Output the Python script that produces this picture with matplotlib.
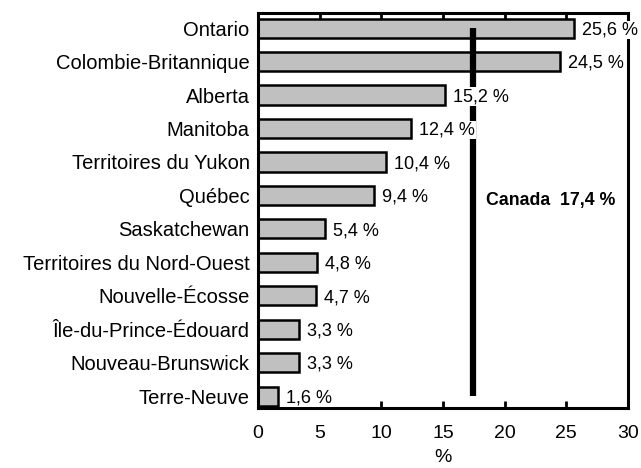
import matplotlib
matplotlib.use("Agg")
import matplotlib.pyplot as plt

plt.rcParams['font.family'] = ['Liberation Sans', 'DejaVu Sans']

# data
provinces = ["Ontario", "Colombie-Britannique", "Alberta", "Manitoba",
             "Territoires du Yukon", "Québec", "Saskatchewan",
             "Territoires du Nord-Ouest", "Nouvelle-Écosse",
             "Île-du-Prince-Édouard", "Nouveau-Brunswick", "Terre-Neuve"]
values = [25.6, 24.5, 15.2, 12.4, 10.4, 9.4, 5.4, 4.8, 4.7, 3.3, 3.3, 1.6]
canada = 17.4
x_ticks = [0, 5, 10, 15, 20, 25, 30]

fig = plt.figure(figsize=(6.41, 4.68), dpi=100)
ax = fig.add_axes([258 / 641, 1 - 408 / 468, 370 / 641, 395 / 468])

pos = list(range(len(provinces)))
ax.barh(pos, values, height=0.57, color="#c0c0c0", edgecolor="black",
        linewidth=1.8, zorder=2)

# Canada average line
ax.plot([canada, canada], [0, len(provinces) - 1], color="black",
        linewidth=4.5, solid_capstyle="butt", zorder=2)

for i, v in enumerate(values):
    lbl = f"{v:.1f}".replace(".", ",") + " %"
    ax.text(v + 0.65, i + 0.05, lbl, va="center", ha="left", fontsize=13,
            bbox=dict(facecolor="white", edgecolor="none", pad=0.5), zorder=4)

ax.text(18.5, 5.15, "Canada  17,4 %", fontsize=12.8, fontweight="bold",
        va="center", ha="left", zorder=4)

ax.set_xlim(0, 30)
ax.set_ylim(len(provinces) - 1 + 0.35, -0.45)
ax.set_xticks(x_ticks)
ax.set_xticklabels([str(t) for t in x_ticks], fontsize=14)
ax.set_yticks(pos)
ax.set_yticklabels(provinces, fontsize=14.5)
ax.tick_params(axis="x", direction="in", top=True, length=5, width=2, pad=12)
ax.tick_params(axis="y", length=0, pad=6)
ax.set_xlabel("%", fontsize=14, labelpad=5)

for s in ax.spines.values():
    s.set_linewidth(2.2)

fig.savefig("out.png", dpi=100)
